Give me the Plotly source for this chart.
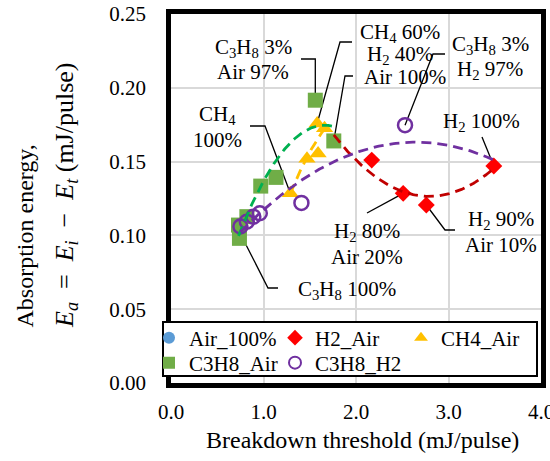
import numpy as np
import plotly.graph_objects as go

# ---------------- data ----------------
air_x = [1.76]
air_y = [0.164]

h2_air_x = [2.17, 2.51, 2.76, 3.49]
h2_air_y = [0.151, 0.1285, 0.1206, 0.147]

ch4_air_x = [1.29, 1.47, 1.59, 1.58, 1.66]
ch4_air_y = [0.1285, 0.152, 0.1555, 0.1758, 0.1726]

c3h8_air_x = [0.73, 0.74, 0.82, 0.97, 1.135, 1.56, 1.76]
c3h8_air_y = [0.107, 0.098, 0.1127, 0.1334, 0.1393, 0.1916, 0.164]

c3h8_h2_x = [0.75, 0.82, 0.89, 0.96, 1.41, 2.53]
c3h8_h2_y = [0.106, 0.1093, 0.1127, 0.115, 0.122, 0.1747]

x_ticks = [0, 1, 2, 3, 4]
x_ticklabels = ["0.0", "1.0", "2.0", "3.0", "4.0"]
y_ticks = [0, 0.05, 0.10, 0.15, 0.20, 0.25]
y_ticklabels = ["0.00", "0.05", "0.10", "0.15", "0.20", "0.25"]

# ---------------- layout geometry (pixels) ----------------
W, H = 550, 461
ML, MR, MT, MB = 120, 9, 14, 78
GW = W - ML - MR
GH = H - MT - MB
PLOT_L = 171
XMAX, YMAX = 4.0, 0.25
PX_PER_X = (W - MR - PLOT_L) / XMAX
PX_PER_Y = GH / YMAX


def dxp(p):  # pixel x -> data x
    return (p - PLOT_L) / PX_PER_X


def dyp(p):  # pixel y -> data y
    return (H - MB - p) / PX_PER_Y


def pxp(p):  # pixel x -> paper x
    return (p - ML) / GW


def pyp(p):  # pixel y -> paper y
    return (H - MB - p) / GH


FONT = "Liberation Serif"

fig = go.Figure()

fig.add_trace(go.Scatter(x=air_x, y=air_y, mode="markers", name="Air_100%", legend="legend",
                         marker=dict(symbol="circle", size=13, color="#5B9BD5")))
fig.add_trace(go.Scatter(x=h2_air_x, y=h2_air_y, mode="markers", name="H2_Air", legend="legend",
                         marker=dict(symbol="diamond", size=13, color="#FF0000")))
fig.add_trace(go.Scatter(x=ch4_air_x, y=ch4_air_y, mode="markers", name="CH4_Air", legend="legend",
                         marker=dict(symbol="triangle-up", size=15, color="#FFC000")))
fig.add_trace(go.Scatter(x=c3h8_air_x, y=c3h8_air_y, mode="markers", name="C3H8_Air", legend="legend2",
                         marker=dict(symbol="square", size=15, color="#70AD47")))
fig.add_trace(go.Scatter(x=c3h8_h2_x, y=c3h8_h2_y, mode="markers", name="C3H8_H2", legend="legend2",
                         marker=dict(symbol="circle-open", size=14, color="#7030A0",
                                     line=dict(width=2.5, color="#7030A0"))))


def trend(xs, ys, color):
    c = np.polyfit(xs, ys, 2)
    xx = np.linspace(min(xs), max(xs), 120)
    fig.add_trace(go.Scatter(x=xx, y=np.polyval(c, xx), mode="lines", showlegend=False,
                             hoverinfo="skip",
                             line=dict(color=color, width=2.8, dash="10px,6px")))


trend(c3h8_air_x, c3h8_air_y, "#00B050")
trend(air_x + h2_air_x, air_y + h2_air_y, "#C00000")
trend(ch4_air_x, ch4_air_y, "#FFC000")
trend(c3h8_h2_x + [h2_air_x[-1]], c3h8_h2_y + [h2_air_y[-1]], "#7030A0")

# ---------------- annotations ----------------
labels = [
    ("C<sub>3</sub>H<sub>8</sub> 3%", 253, 48),
    ("Air 97%", 253, 72),
    ("CH<sub>4</sub> 60%", 400, 33),
    ("H<sub>2</sub> 40%", 400, 55),
    ("Air 100%", 405, 77),
    ("C<sub>3</sub>H<sub>8</sub> 3%", 490, 45),
    ("H<sub>2</sub> 97%", 490, 70),
    ("H<sub>2</sub> 100%", 481, 122),
    ("CH<sub>4</sub>", 217, 115),
    ("100%", 217, 140),
    ("H<sub>2</sub> 80%", 367, 232),
    ("Air 20%", 367, 257),
    ("H<sub>2</sub> 90%", 501, 220),
    ("Air 10%", 501, 245),
    ("C<sub>3</sub>H<sub>8</sub> 100%", 347, 290),
]
annotations = []
for txt, px_, py_ in labels:
    annotations.append(dict(text=txt, x=dxp(px_), y=dyp(py_), xref="x", yref="y",
                            showarrow=False, xanchor="center", yanchor="middle",
                            font=dict(family=FONT, size=21, color="black")))

# axis titles
annotations.append(dict(text="Breakdown threshold (mJ/pulse)", x=pxp(362), y=pyp(440),
                        xref="paper", yref="paper", showarrow=False,
                        xanchor="center", yanchor="middle",
                        font=dict(family=FONT, size=24, color="black")))
annotations.append(dict(text="Absorption energy,", x=pxp(24), y=pyp(330),
                        xref="paper", yref="paper", showarrow=False, textangle=-90,
                        xanchor="center", yanchor="bottom",
                        font=dict(family=FONT, size=24, color="black")))
annotations.append(dict(text="<i>E</i><sub><i>a</i></sub>\u2002=\u2002<i>E</i><sub><i>i</i></sub>\u2002−\u2002"
                             "<i>E</i><sub><i>t</i></sub> (mJ/pulse)",
                        x=pxp(66), y=pyp(330),
                        xref="paper", yref="paper", showarrow=False, textangle=-90,
                        xanchor="center", yanchor="bottom",
                        font=dict(family=FONT, size=26, color="black")))

# ---------------- leader lines ----------------
leaders = [
    [(dxp(301), dyp(59)), (c3h8_air_x[5], dyp(59)), (c3h8_air_x[5], c3h8_air_y[5])],
    [(dxp(352), dyp(42)), (dxp(340), dyp(42)), (ch4_air_x[3], ch4_air_y[3])],
    [(dxp(353), dyp(76)), (dxp(345), dyp(76)), (air_x[0], air_y[0])],
    [(dxp(445), dyp(54)), (dxp(433), dyp(54)), (c3h8_h2_x[5], c3h8_h2_y[5])],
    [(dxp(482), dyp(137)), (h2_air_x[3], h2_air_y[3])],
    [(dxp(250), dyp(126)), (dxp(265), dyp(126)), (ch4_air_x[0], ch4_air_y[0])],
    [(dxp(367), dyp(213)), (h2_air_x[1], h2_air_y[1])],
    [(dxp(455), dyp(230)), (dxp(445), dyp(230)), (h2_air_x[2], h2_air_y[2])],
    [(dxp(278), dyp(288)), (dxp(268), dyp(288)), (dxp(240), dyp(233))],
]
shapes = []
for pts in leaders:
    path = "M " + " L ".join(f"{x:.4f},{y:.5f}" for x, y in pts)
    shapes.append(dict(type="path", path=path, xref="x", yref="y", layer="between",
                       line=dict(color="black", width=1.3)))
# legend frame (white box with black border, legends are drawn on top of it)
shapes.append(dict(type="rect", xref="paper", yref="paper",
                   x0=pxp(163), x1=pxp(537), y0=pyp(376), y1=pyp(322),
                   layer="above", fillcolor="white", line=dict(color="black", width=2)))

legend_common = dict(orientation="h", xanchor="left", yanchor="middle",
                     xref="paper", yref="paper",
                     entrywidth=81, entrywidthmode="pixels",
                     bgcolor="rgba(0,0,0,0)", borderwidth=0,
                     font=dict(family=FONT, size=21, color="black"),
                     itemsizing="constant")

fig.update_layout(
    width=W, height=H,
    margin=dict(l=ML, r=MR, t=MT, b=MB, pad=0, autoexpand=False),
    paper_bgcolor="white", plot_bgcolor="white",
    font=dict(family=FONT, size=21, color="black"),
    showlegend=True,
    legend=dict(x=pxp(149), y=pyp(338), **legend_common),
    legend2=dict(x=pxp(149), y=pyp(363), **legend_common),
    xaxis=dict(domain=[(PLOT_L - ML) / GW, 1.0], range=[0, XMAX],
               tickvals=x_ticks, ticktext=x_ticklabels,
               showgrid=True, gridcolor="#d9d9d9", gridwidth=2, zeroline=False,
               showline=True, mirror=True, linecolor="black", linewidth=4.5,
               ticks="", ticklabelstandoff=6, ticklabeloverflow="allow",
               tickfont=dict(family=FONT, size=21, color="black")),
    yaxis=dict(range=[0, YMAX], tickvals=y_ticks, ticktext=y_ticklabels,
               showgrid=True, gridcolor="#d9d9d9", gridwidth=2, zeroline=False,
               showline=True, mirror=True, linecolor="black", linewidth=4.5,
               ticks="", ticklabelstandoff=16, ticklabeloverflow="allow",
               tickfont=dict(family=FONT, size=21, color="black")),
    annotations=annotations,
    shapes=shapes,
)

fig.write_html("out.html", config={"displayModeBar": False},
               post_script="document.body.style.margin='0px';")
